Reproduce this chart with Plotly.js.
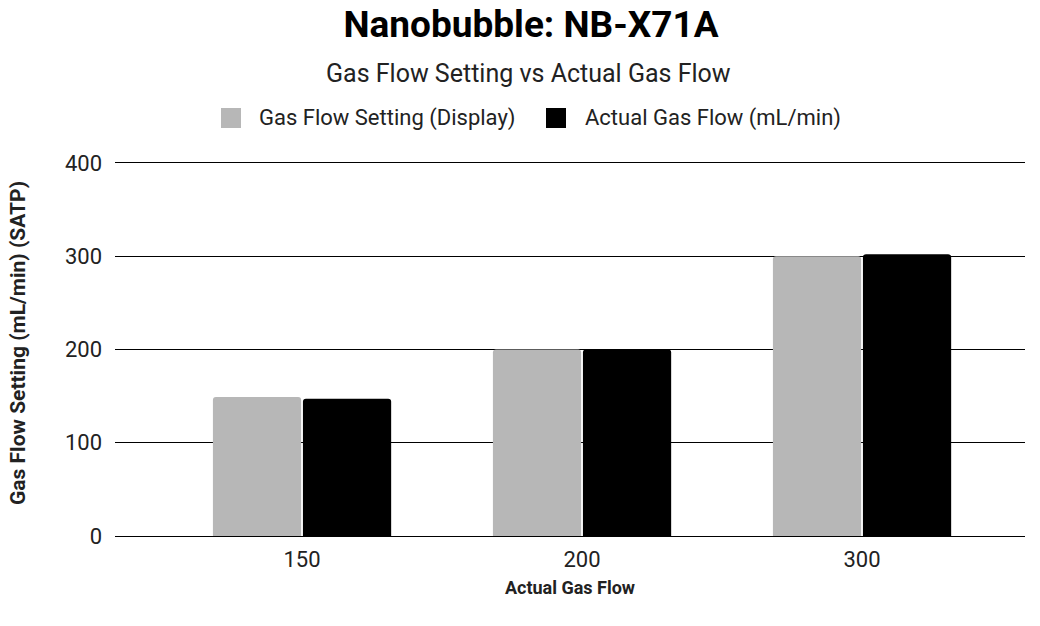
<!DOCTYPE html>
<html>
<head>
<meta charset="utf-8">
<script src="https://cdn.plot.ly/plotly-3.0.1.min.js"></script>
<style>html,body{margin:0;padding:0;background:#fff;}#chart{width:1040px;height:626px;}</style>
</head>
<body>
<div id="chart"></div>
<script>
const categories = ["150", "200", "300"];
const settingValues = [149, 200, 300];
const actualValues = [147, 200, 302];
const seriesNames = ["Gas Flow Setting (Display)", "Actual Gas Flow (mL/min)"];
const seriesColors = ["#b7b7b7", "#000000"];
const yTicks = [0, 100, 200, 300, 400];

const font = "Roboto, 'Open Sans', sans-serif";
const W = 1040, H = 626, ML = 115, MR = 15, MT = 161, MB = 90;
const PW = W - ML - MR, PH = H - MT - MB;
const px = x => (x - ML) / PW;
const py = y => (H - MB - y) / PH;

const data = [
  {type: "bar", name: seriesNames[0], x: categories, y: settingValues,
   marker: {color: seriesColors[0], cornerradius: 3, line: {width: 0}}},
  {type: "bar", name: seriesNames[1], x: categories, y: actualValues,
   marker: {color: seriesColors[1], cornerradius: 3, line: {width: 0}}}
];

// custom legend (larger swatches, as in the reference)
const legendItems = [
  {sx: 221, tx: 257}, {sx: 546, tx: 583}
];
const shapes = legendItems.map((it, i) => ({
  type: "rect", xref: "paper", yref: "paper",
  x0: px(it.sx), x1: px(it.sx + 20), y0: py(128), y1: py(108),
  fillcolor: seriesColors[i], line: {width: 0}
}));
const legendAnn = legendItems.map((it, i) => ({
  text: seriesNames[i], xref: "paper", yref: "paper", x: px(it.tx), y: py(118),
  xanchor: "left", yanchor: "middle", showarrow: false,
  font: {family: font, size: 22, color: "#222"}
}));

const layout = {
  width: W, height: H,
  paper_bgcolor: "#fff", plot_bgcolor: "#fff",
  font: {family: font, color: "#222", size: 22},
  margin: {l: ML, r: MR, t: MT, b: MB},
  barmode: "group", bargap: 0.357, bargroupgap: 0.02,
  showlegend: false,
  title: {text: "<b>Nanobubble: NB-X71A</b>", font: {family: font, size: 37, color: "#000"},
          x: 531 / W, xanchor: "center", xref: "container", yref: "container", y: 1 - 24/626, yanchor: "middle"},
  xaxis: {type: "category", range: [-0.668, 2.582], showgrid: false, zeroline: false, showline: false,
          ticks: "", ticklabelstandoff: 8, tickfont: {family: font, size: 22, color: "#222"},
          title: {text: "<b>Actual Gas Flow</b>", font: {family: font, size: 18, color: "#222"}, standoff: 10}},
  yaxis: {range: [0, 402], tickvals: yTicks, showgrid: true, gridcolor: "#000", gridwidth: 1,
          zeroline: true, zerolinecolor: "#000", zerolinewidth: 1, showline: false, ticks: "",
          ticklabelstandoff: 12,
          tickfont: {family: font, size: 22, color: "#222"}},
  shapes: shapes,
  annotations: [
    {text: "Gas Flow Setting vs Actual Gas Flow", xref: "paper", yref: "paper", x: px(528), y: py(73),
     xanchor: "center", yanchor: "middle", showarrow: false, font: {family: font, size: 25, color: "#222"}},
    {text: "<b>Gas Flow Setting (mL/min) (SATP)</b>", xref: "paper", yref: "paper", x: px(18), y: py(343),
     xanchor: "center", yanchor: "middle", textangle: -90, showarrow: false,
     font: {family: font, size: 21, color: "#222"}}
  ].concat(legendAnn)
};

Plotly.newPlot("chart", data, layout, {displayModeBar: false});
</script>
</body>
</html>
